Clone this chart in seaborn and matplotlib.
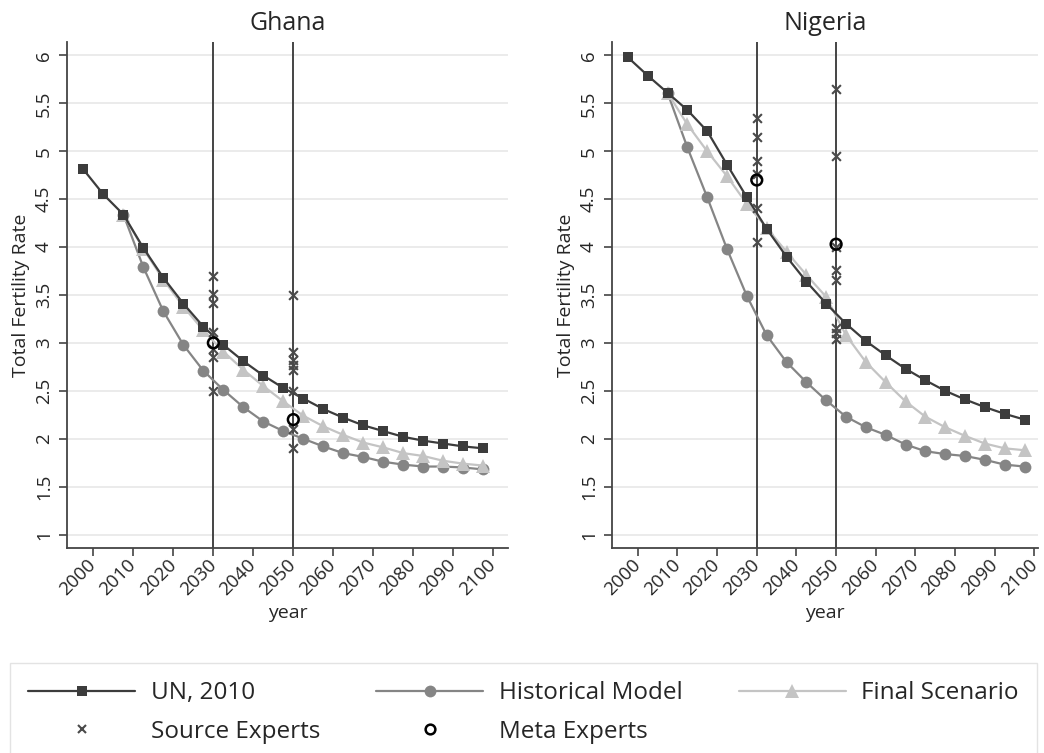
import matplotlib
matplotlib.use("Agg")
import matplotlib.pyplot as plt
from matplotlib.lines import Line2D
import seaborn as sns

# Five-year period midpoints (UN 2010 projections)
years = [1997.5, 2002.5, 2007.5, 2012.5, 2017.5, 2022.5, 2027.5, 2032.5, 2037.5,
         2042.5, 2047.5, 2052.5, 2057.5, 2062.5, 2067.5, 2072.5, 2077.5, 2082.5,
         2087.5, 2092.5, 2097.5]
# model series start at 2007.5
model_years = [2007.5, 2012.5, 2017.5, 2022.5, 2027.5, 2032.5, 2037.5, 2042.5,
               2047.5, 2052.5, 2057.5, 2062.5, 2067.5, 2072.5, 2077.5, 2082.5,
               2087.5, 2092.5, 2097.5]

ghana_un = [4.81, 4.55, 4.34, 3.99, 3.68, 3.41, 3.17, 2.98, 2.81, 2.66, 2.53,
            2.42, 2.31, 2.22, 2.14, 2.08, 2.02, 1.98, 1.95, 1.92, 1.90]
ghana_hist = [4.34, 3.79, 3.33, 2.98, 2.71, 2.51, 2.33, 2.18, 2.08, 2.00, 1.92,
              1.85, 1.81, 1.76, 1.73, 1.71, 1.71, 1.70, 1.68]
ghana_final = [4.34, 3.98, 3.66, 3.38, 3.13, 2.91, 2.72, 2.55, 2.39, 2.24, 2.13,
               2.04, 1.96, 1.91, 1.85, 1.82, 1.77, 1.74, 1.72]
ghana_src_2030 = [3.70, 3.51, 3.42, 3.11, 2.94, 2.85, 2.50]
ghana_src_2050 = [3.50, 2.91, 2.82, 2.77, 2.72, 2.50, 2.10, 1.90]
ghana_meta = [3.00, 2.20]

nigeria_un = [5.98, 5.79, 5.61, 5.43, 5.21, 4.86, 4.52, 4.19, 3.90, 3.64, 3.41,
              3.20, 3.02, 2.87, 2.73, 2.61, 2.50, 2.41, 2.33, 2.26, 2.20]
nigeria_hist = [5.61, 5.04, 4.52, 3.98, 3.49, 3.08, 2.80, 2.59, 2.40, 2.23, 2.12,
                2.04, 1.94, 1.87, 1.84, 1.82, 1.78, 1.73, 1.71]
nigeria_final = [5.61, 5.28, 5.00, 4.74, 4.45, 4.20, 3.95, 3.71, 3.48, 3.08, 2.80,
                 2.59, 2.39, 2.23, 2.12, 2.03, 1.95, 1.90, 1.88]
nigeria_src_2030 = [5.35, 5.15, 4.90, 4.76, 4.41, 4.05]
nigeria_src_2050 = [5.65, 4.95, 4.00, 3.76, 3.66, 3.16, 3.10, 3.04]
nigeria_meta = [4.70, 4.03]

expert_years = [2030, 2050]
x_ticks = [2000, 2010, 2020, 2030, 2040, 2050, 2060, 2070, 2080, 2090, 2100]
y_ticks = [1, 1.5, 2, 2.5, 3, 3.5, 4, 4.5, 5, 5.5, 6]
y_labels = ["1", "1.5", "2", "2.5", "3", "3.5", "4", "4.5", "5", "5.5", "6"]

UN_C = "#3c3c3c"
HIST_C = "#858585"
FINAL_C = "#c4c4c4"
SRC_C = "#4a4a4a"
AX_C = "#444444"

sns.set_style("ticks")
plt.rcParams["font.family"] = ["Open Sans", "DejaVu Sans"]

fig = plt.figure(figsize=(10.44, 7.53), dpi=100)
ax_g = fig.add_axes([67 / 1044, 205 / 753, 441 / 1044, 506 / 753])
ax_n = fig.add_axes([612 / 1044, 205 / 753, 426 / 1044, 506 / 753])


def draw_panel(ax, title, un, hist, final, src_2030, src_2050, meta, xlim):
    ax.set_axisbelow(True)
    ax.yaxis.grid(True, color="#e6e6e6", lw=1.1)

    for yr in expert_years:
        ax.axvline(yr, color=AX_C, lw=1.4, zorder=1)

    sns.lineplot(x=model_years, y=hist, ax=ax, color=HIST_C, lw=1.6,
                 marker="o", markersize=8.5, markeredgewidth=0, estimator=None, zorder=2)
    sns.lineplot(x=model_years, y=final, ax=ax, color=FINAL_C, lw=1.6,
                 marker="^", markersize=9.5, markeredgewidth=0, estimator=None, zorder=3)
    sns.lineplot(x=years, y=un, ax=ax, color=UN_C, lw=1.6,
                 marker="s", markersize=6.5, markeredgewidth=0, estimator=None, zorder=4)

    src_x = [2030] * len(src_2030) + [2050] * len(src_2050)
    sns.scatterplot(x=src_x, y=src_2030 + src_2050, ax=ax, marker="x",
                    color=SRC_C, s=40, linewidth=1.5, zorder=5)
    ax.scatter(expert_years, meta, s=60, facecolors="none", edgecolors="black",
               linewidths=1.8, zorder=6)

    ax.set_xlim(*xlim)
    ax.set_ylim(0.86, 6.14)
    ax.set_xticks(x_ticks)
    ax.set_xticklabels([str(t) for t in x_ticks], rotation=45, ha="right",
                       va="center", rotation_mode="anchor", fontsize=13.5)
    ax.set_yticks(y_ticks)
    ax.set_yticklabels(y_labels, rotation=90, va="center", fontsize=13.5)
    ax.tick_params(length=6, width=1.2, color=AX_C, pad=4)
    ax.tick_params(axis="x", pad=4)
    ax.set_xlabel("year", fontsize=14, labelpad=4)
    ax.set_ylabel("Total Fertility Rate", fontsize=14, labelpad=4)
    ax.set_title(title, fontsize=18, pad=9)
    sns.despine(ax=ax)
    for sp in ["left", "bottom"]:
        ax.spines[sp].set_color(AX_C)
        ax.spines[sp].set_linewidth(1.3)


draw_panel(ax_g, "Ghana", ghana_un, ghana_hist, ghana_final,
           ghana_src_2030, ghana_src_2050, ghana_meta, (1993.4, 2103.7))
draw_panel(ax_n, "Nigeria", nigeria_un, nigeria_hist, nigeria_final,
           nigeria_src_2030, nigeria_src_2050, nigeria_meta, (1993.5, 2100.9))

handles = [
    Line2D([], [], color=UN_C, lw=1.6, marker="s", markersize=6.5, markeredgewidth=0),
    Line2D([], [], color=SRC_C, ls="none", marker="x", markersize=6, markeredgewidth=1.5),
    Line2D([], [], color=HIST_C, lw=1.6, marker="o", markersize=8.5, markeredgewidth=0),
    Line2D([], [], color="black", ls="none", marker="o", markersize=7,
           markerfacecolor="none", markeredgewidth=1.8),
    Line2D([], [], color=FINAL_C, lw=1.6, marker="^", markersize=9.5, markeredgewidth=0),
]
labels = ["UN, 2010", "Source Experts", "Historical Model", "Meta Experts", "Final Scenario"]
fig.legend(handles, labels, loc="upper left", bbox_to_anchor=(10 / 1044, 1 - 663 / 753),
           ncol=3, fontsize=17.5, frameon=True, fancybox=False, edgecolor="#dcdcdc",
           handlelength=4.4, handletextpad=0.65, columnspacing=2.3, borderpad=0.75,
           borderaxespad=0, labelspacing=0.6)

fig.savefig("out.png", dpi=100)
